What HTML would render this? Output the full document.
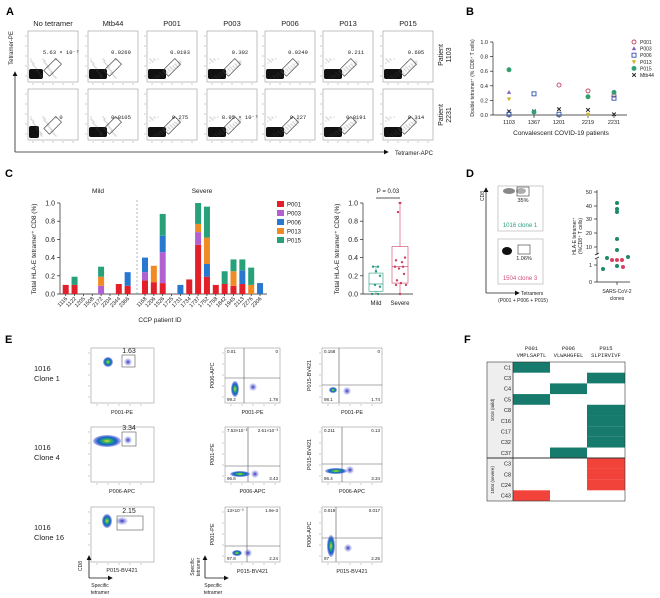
<!DOCTYPE html>
<html><head><meta charset="utf-8"><style>
html,body{margin:0;padding:0;background:#fff;}
svg{display:block;font-family:"Liberation Sans",Arial,sans-serif;}
.m{font-family:"Liberation Mono",monospace;}
</style></head><body>
<svg id="s" width="660" height="598" viewBox="0 0 660 598" xmlns="http://www.w3.org/2000/svg">
<defs>
<marker id="ar" markerWidth="6" markerHeight="6" refX="5" refY="3" orient="auto"><path d="M0,0 L6,3 L0,6 z" fill="#111"/></marker>
<radialGradient id="hb" cx="50%" cy="50%" r="50%"><stop offset="0" stop-color="#e8e020"/><stop offset="0.3" stop-color="#30b060"/><stop offset="0.65" stop-color="#1060d0"/><stop offset="1" stop-color="#3030c0" stop-opacity="0.3"/></radialGradient>
<radialGradient id="pb" cx="50%" cy="50%" r="50%"><stop offset="0" stop-color="#3030c0"/><stop offset="1" stop-color="#8080e0" stop-opacity="0.1"/></radialGradient>
</defs>
<g font-weight="bold" font-size="11">
<text x="6" y="15">A</text><text x="466" y="15">B</text><text x="5" y="177">C</text><text x="466" y="177">D</text><text x="5" y="343">E</text><text x="464" y="343">F</text>
</g>
<g id="g"></g>
</svg>
<script>
const g=document.getElementById('g');let h='';
function T(x,y,t,o){o=o||{};h+=`<text x="${x}" y="${y}" font-size="${o.s||6}" fill="${o.f||'#222'}" text-anchor="${o.a||'start'}"${o.r?` transform="rotate(${o.r} ${x} ${y})"`:''}${o.c?` class="${o.c}"`:''}>${t}</text>`;}
function L(x1,y1,x2,y2,c,w,e){h+=`<line x1="${x1}" y1="${y1}" x2="${x2}" y2="${y2}" stroke="${c||'#222'}" stroke-width="${w||0.7}" ${e||''}/>`;}
function R(x,y,w,hh,f,s,e){h+=`<rect x="${x}" y="${y}" width="${w}" height="${hh}" fill="${f||'none'}" stroke="${s||'none'}" stroke-width="0.6" ${e||''}/>`;}
// ---------- A
const ax=[28,88,147,207,265,323,383],titles=['No tetramer','Mtb44','P001','P003','P006','P013','P015'];
const v1=['5.63 × 10⁻³','0.0269','0.0193','0.302','0.0249','0.211','0.605'];
const v2=['0','0.0105','0.275','8.95 × 10⁻³','0.227','0.0191','0.314'];
ax.forEach((x,i)=>{T(x+25,26,titles[i],{s:7.5,a:'middle'});
 [[31,v1],[89,v2]].forEach(([y,v],r)=>{
  R(x,y,50,51,'#fff','#999');
  for(let k=0;k<5;k++){L(x-3,y+5+k*10,x-1,y+5+k*10,'#999',0.5);L(x+5+k*10,y+52,x+5+k*10,y+54,'#999',0.5);}
  const bw=(i==0&&r==1)?10:(i==0?14:18);
  h+=`<rect x="${x+1}" y="${y+(i==0&&r==1?37:38)}" width="${bw}" height="${i==0&&r==1?12:10}" rx="2" fill="#111"/>`;
  for(let k=0;k<45;k++){const px=x+3+((k*37)%(i>1?32:26)),py=y+28+((k*17)%20);h+=`<circle cx="${px}" cy="${py}" r="0.4" fill="#555"/>`;}
  h+=`<rect x="${x+21}" y="${y+28}" width="8" height="17" fill="none" stroke="#333" stroke-width="0.6" transform="rotate(45 ${x+25} ${y+36})"/>`;
  T(x+33,y+(r?30:23),v[i],{s:5.5,a:'middle',c:'m'});
 });
});
[[55,'1103'],[115,'2231']].forEach(([y,t])=>{T(443,y,'Patient',{s:7,a:'middle',r:-90});T(451,y,t,{s:7,a:'middle',r:-90});});
L(15,152,15,72,'#222',0.8,'marker-end="url(#ar)"');L(15,152,388,152,'#222',0.8,'marker-end="url(#ar)"');
T(395,155,'Tetramer-APC',{s:6});T(13,48,'Tetramer-PE',{s:6,a:'middle',r:-90});
// ---------- B
L(493,42,493,115);L(493,115,627,115);
[0,0.2,0.4,0.6,0.8,1].forEach(v=>{const y=115-v*73;L(490,y,493,y);T(488,y+2,v.toFixed(1),{s:5.5,a:'end'});});
const bx=[509,534,559,588,614];['1103','1367','1201','2219','2231'].forEach((t,i)=>{L(bx[i],115,bx[i],118);T(bx[i],124,t,{s:5.5,a:'middle'});});
T(561,135,'Convalescent COVID-19 patients',{s:6.5,a:'middle'});T(474,78,'Double tetramer⁺ (% CD8⁺ T cells)',{s:5,a:'middle',r:-90});
const by=v=>115-v*73;
function mk(t,x,y){const c={r:'#c04060',p:'#8060c0',b:'#3050b0',y:'#d0b020',g:'#30a070',k:'#222'}[t];
 if(t=='r'||t=='g')h+=`<circle cx="${x}" cy="${y}" r="2" fill="${t=='g'?c:'none'}" stroke="${c}" stroke-width="0.9"/>`;
 else if(t=='p')h+=`<path d="M${x},${y-2.3} L${x+2.2},${y+1.5} L${x-2.2},${y+1.5}z" fill="${c}"/>`;
 else if(t=='y')h+=`<path d="M${x},${y+2.3} L${x+2.2},${y-1.5} L${x-2.2},${y-1.5}z" fill="${c}"/>`;
 else if(t=='b')h+=`<rect x="${x-2}" y="${y-2}" width="4" height="4" fill="none" stroke="${c}" stroke-width="0.9"/>`;
 else h+=`<path d="M${x-1.8},${y-1.8}L${x+1.8},${y+1.8}M${x+1.8},${y-1.8}L${x-1.8},${y+1.8}" stroke="${c}" stroke-width="1"/>`;}
[['g',0,.62],['p',0,.31],['y',0,.22],['k',0,.05],['b',0,.01],['b',1,.29],['k',1,.05],['g',1,.04],['r',2,.41],['k',2,.08],['b',2,.01],['r',3,.33],['g',3,.25],['k',3,.07],['y',3,.01],['r',4,.27],['g',4,.31],['b',4,.23],['k',4,.01]].forEach(([t,i,v])=>mk(t,bx[i],by(v)));
['r','p','b','y','g','k'].forEach((t,i)=>{mk(t,634,42+i*6.6);T(640,44+i*6.6,['P001','P003','P006','P013','P015','Mtb44'][i],{s:5});});
// ---------- C
const col={r:'#e3202a',p:'#b060d0',b:'#2878d0',o:'#f08a24',g:'#28a07a'};
L(60,203,60,294);L(60,294,267,294);
[0,.2,.4,.6,.8,1].forEach(v=>{const y=294-v*91;L(57,y,60,y);T(55,y+2.5,v.toFixed(1),{s:7,a:'end'});});
T(36,249,'Total HLA-E tetramer⁺ CD8 (%)',{s:6.5,a:'middle',r:-90});
L(137,200,137,294,'#888',0.6,'stroke-dasharray="2,2"');
T(98,193,'Mild',{s:6.5,a:'middle'});T(202,193,'Severe',{s:6.5,a:'middle'});
const mild=[['1116',[['r',.1]]],['1122',[['r',.1],['g',.19]]],['1205',[]],['1508',[]],['2172',[['p',.09],['o',.19],['g',.3]]],['2204',[]],['2344',[['r',.11]]],['2366',[['r',.09],['b',.24]]]];
const sev=[['1168',[['r',.15],['p',.24],['b',.4]]],['1206',[['r',.13],['o',.31]]],['1526',[['r',.12],['p',.46],['b',.64],['g',.88]]],['1725',[]],['1731',[['b',.1]]],['1734',[['r',.16]]],['1737',[['r',.54],['p',.68],['o',.77],['g',1]]],['1752',[['r',.19],['b',.33],['o',.62],['g',.96]]],['1758',[['r',.1]]],['1842',[['r',.11],['g',.25]]],['1945',[['r',.09],['o',.25],['g',.38]]],['2113',[['r',.11],['b',.26],['g',.38]]],['2276',[['o',.1],['g',.29]]],['2306',[['b',.12]]]];
function bars(arr,x0){arr.forEach(([id,st],i)=>{const cx=x0+i*8.85;let prev=0;st.forEach(([c,v])=>{R(cx-3,294-v*91,6,(v-prev)*91,col[c]);prev=v;});L(cx,294,cx,296);T(cx+2,299,id,{s:5.5,a:'end',r:-45});});}
bars(mild,65.7);bars(sev,145);
T(160,322,'CCP patient ID',{s:6.5,a:'middle'});
['r','p','b','o','g'].forEach((c,i)=>{R(277,201+i*9,7,6,col[c]);T(287,206.5+i*9,['P001','P003','P006','P013','P015'][i],{s:6});});
// box plot
L(363,203,363,294);L(363,294,413,294);
[0,.2,.4,.6,.8,1].forEach(v=>{const y=294-v*91;L(360,y,363,y);T(358,y+2.5,v.toFixed(1),{s:7,a:'end'});});
T(339,249,'Total HLA-E tetramer⁺ CD8 (%)',{s:6.5,a:'middle',r:-90});
function box(x0,w,c,mn,q1,md,q3,mx,pts){const Y=v=>294-v*91,cx=x0+w/2;L(cx,Y(mx),cx,Y(mn),c,0.6);L(cx-2,Y(mx),cx+2,Y(mx),c);R(x0,Y(q3),w,Y(q1)-Y(q3),'#fff',c);L(x0,Y(md),x0+w,Y(md),c,0.7);pts.forEach(([dx,v])=>h+=`<circle cx="${cx+dx}" cy="${Y(v)}" r="1.2" fill="${c}"/>`);}
box(369,14,'#2a9a80',0,.03,.11,.23,.3,[[-3,.3],[2,.3],[0,.25],[4,.2],[-1,.1],[4,.08],[-4,0],[2,0]]);
box(392,16,'#d04060',0,.12,.3,.52,1,[[0,1],[-2,.9],[5,.4],[-4,.37],[2,.35],[3,.3],[-5,.3],[-1,.28],[4,.22],[-3,.15],[1,.12],[6,.1],[-4,.1],[0,0]]);
L(376,198,400,198);T(388,193,'P = 0.03',{s:6,a:'middle'});
T(376,305,'Mild',{s:6,a:'middle'});T(400,305,'Severe',{s:6,a:'middle'});
// ---------- D
R(498,186,45,45,'#fff','#aaa');R(498,239,45,45,'#fff','#aaa');
h+=`<ellipse cx="509" cy="191" rx="6" ry="3" fill="#555" opacity="0.7"/><ellipse cx="521" cy="191" rx="5" ry="3" fill="#777" opacity="0.6"/>`;
R(517,187,12,9,'none','#333');T(523,202,'35%',{s:5.5,a:'middle'});T(520,227,'1016 clone 1',{s:6,a:'middle',f:'#2aa080'});
h+=`<ellipse cx="507" cy="251" rx="5" ry="4" fill="#111"/>`;R(518,245,12,9,'none','#333');T(524,260,'1.06%',{s:5.5,a:'middle'});T(520,280,'1504 clone 3',{s:6,a:'middle',f:'#d05080'});
L(486,293,486,188,'#222',0.8,'marker-end="url(#ar)"');L(486,293,519,293,'#222',0.8,'marker-end="url(#ar)"');
T(484,196,'CD8',{s:5,a:'middle',r:-90});T(521,295,'Tetramers',{s:5});T(523,302,'(P001 + P006 + P015)',{s:5,a:'middle'});
L(597,190,597,255);L(597,259,597,282);L(595,255,599,253);L(595,259,599,257);
[[50,192],[40,206],[30,219],[20,233],[10,247],[1,265],[0,282]].forEach(([v,y])=>{L(594,y,597,y);T(592,y+2,v,{s:5.5,a:'end'});});
L(597,282,630,282);L(617,282,617,285);
T(576,236,'HLA-E tetramer⁺',{s:5,a:'middle',r:-90});T(582,236,'(%CD8⁺ T cells)',{s:5,a:'middle',r:-90});
[[617,203],[617,209],[617,212],[617,239],[617,250],[607,258],[628,257],[603,269],[617,266]].forEach(([x,y])=>h+=`<circle cx="${x}" cy="${y}" r="2" fill="#1a8a6a"/>`);
[[612,260],[617,260],[622,260],[623,267]].forEach(([x,y])=>h+=`<circle cx="${x}" cy="${y}" r="2" fill="#d84060"/>`);
T(617,293,'SARS-CoV-2',{s:5,a:'middle'});T(617,300,'clones',{s:5,a:'middle'});
// ---------- E
function fp(x,y,w,hh){R(x,y,w,hh,'#fff','#999');for(let k=0;k<5;k++){L(x-3,y+5+k*11,x-1,y+5+k*11,'#999',0.5);L(x+6+k*11,y+hh+1,x+6+k*11,y+hh+3,'#999',0.5);}}
function blob(cx,cy,rx,ry){h+=`<ellipse cx="${cx}" cy="${cy}" rx="${rx}" ry="${ry}" fill="url(#hb)"/>`;}
function pblob(cx,cy,rx,ry){h+=`<ellipse cx="${cx}" cy="${cy}" rx="${rx}" ry="${ry}" fill="url(#pb)"/>`;}
const rows=[348,427,507];
const names=[['1016','Clone 1'],['1016','Clone 4'],['1016','Clone 16']];
rows.forEach((y,i)=>{T(34,y+23,names[i][0],{s:7.5});T(34,y+33,names[i][1],{s:7.5});});
fp(91,348,63,55);blob(108,362,5,5);pblob(128,362,4,4);R(122,355,13,12,'none','#555');T(129,353,'1.63',{s:7,a:'middle'});T(122,414,'P001-PE',{s:5.5,a:'middle'});
fp(91,427,63,55);blob(107,441,14,6);pblob(128,440,4,4);R(122,432,14,14,'none','#555');T(129,430,'3.34',{s:7,a:'middle'});T(122,493,'P006-APC',{s:5.5,a:'middle'});
fp(91,507,63,55);blob(107,521,5,7);pblob(122,521,6,4);R(117,516,26,14,'none','#555');T(129,513,'2.15',{s:7,a:'middle'});T(122,572,'P015-BV421',{s:5.5,a:'middle'});
function qp(x,y,w,hh,vx,hy,bx,byy,brx,bry,px,py,lab,xl,yl){fp(x,y,w,hh);L(x+vx,y,x+vx,y+hh,'#555',0.6);L(x,y+hy,x+w,y+hy,'#555',0.6);blob(bx,byy,brx,bry);pblob(px,py,4,4);
 T(x+2,y+5,lab[0],{s:4.5});T(x+w-2,y+5,lab[1],{s:4.5,a:'end'});T(x+2,y+hh-2,lab[2],{s:4.5});T(x+w-2,y+hh-2,lab[3],{s:4.5,a:'end'});
 T(x+w/2,y+hh+11,xl,{s:5.5,a:'middle'});T(x-11,y+hh/2,yl,{s:5.5,a:'middle',r:-90});}
qp(225,348,55,55,19,30,235,389,4,8,253,387,['0.01','0','99.2','1.78'],'P001-PE','P006-APC');
qp(225,427,55,55,23,39,240,474,10,3,255,474,['7.53×10⁻³','2.61×10⁻³','96.6','3.43'],'P006-APC','P001-PE');
qp(225,507,55,55,22,39,237,553,5,3,248,553,['13×10⁻³','1.9e-3','97.8','2.24'],'P015-BV421','P001-PE');
qp(322,348,60,55,17,37,333,390,4,3,347,391,['0.158','0','98.1','1.74'],'P001-PE','P015-BV421');
qp(322,427,60,55,20,37,336,471,11,3,350,470,['0.211','0.13','96.4','3.34'],'P006-APC','P015-BV421');
qp(322,507,60,55,14,31,331,546,4,11,348,548,['0.019','0.017','97','2.26'],'P015-BV421','P006-APC');
L(89,578,89,556,'#111',0.8,'marker-end="url(#ar)"');L(89,578,112,578,'#111',0.8,'marker-end="url(#ar)"');T(82,566,'CD8',{s:5,a:'middle',r:-90});T(100,587,'Specific',{s:5,a:'middle'});T(100,594,'tetramer',{s:5,a:'middle'});
L(205,578,205,556,'#111',0.8,'marker-end="url(#ar)"');L(205,578,228,578,'#111',0.8,'marker-end="url(#ar)"');T(194,567,'Specific',{s:5,a:'middle',r:-90});T(200,567,'tetramer',{s:5,a:'middle',r:-90});T(213,587,'Specific',{s:5,a:'middle'});T(213,594,'tetramer',{s:5,a:'middle'});
// ---------- F
const fx=[513,550,587,625],rh=(501-362)/13;
[['P001','VMPLSAPTL'],['P006','VLWAHGFEL'],['P015','SLPIRVIVF']].forEach((t,i)=>{const c=(fx[i]+fx[i+1])/2;T(c,350,t[0],{s:5.5,a:'middle',c:'m'});T(c,357,t[1],{s:5.5,a:'middle',c:'m'});});
R(487,362,138,139,'#fff');R(487,362,26,139,'#eee');
const rl=['C1','C3','C4','C5','C8','C16','C17','C32','C37','C3','C8','C24','C43'];
const cells=[[0],[2],[1],[0],[2],[2],[2],[2],[1],[2],[2],[2],[0]];
rl.forEach((t,i)=>{const y=362+i*rh;T(511,y+rh/2+2,t,{s:5.5,a:'end'});cells[i].forEach(c=>R(fx[c],y,fx[c+1]-fx[c],rh,i<9?'#167a6c':'#f2433a'));});
L(487,458,625,458,'#333',1);R(487,362,138,139,'none','#333','stroke-width="1"');L(513,362,513,501,'#333',0.8);
T(494,410,'1016 (mild)',{s:4.5,a:'middle',r:-90});T(494,480,'1504 (severe)',{s:4.5,a:'middle',r:-90});
g.innerHTML=h;
</script>
</body></html>
